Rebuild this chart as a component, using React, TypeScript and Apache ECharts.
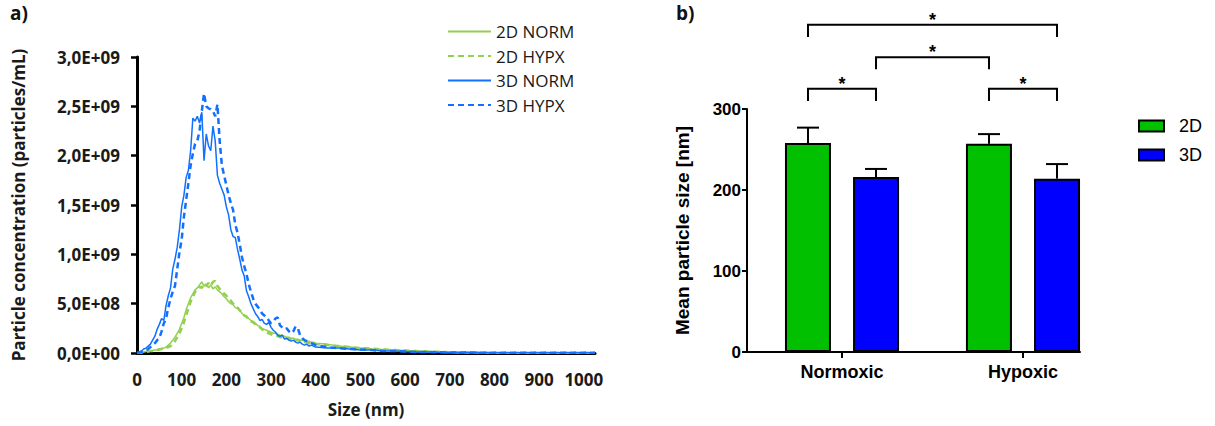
import React, { useEffect, useRef } from "react";
import * as echarts from "echarts";

// ---------- Panel a) : NTA size distributions (values in units of 1E+09 particles/mL) ----------
const sizes = [
  0, 5, 10, 15, 20, 25, 30, 35, 40, 45,
  50, 55, 60, 65, 70, 75, 80, 85, 90, 95,
  100, 105, 110, 115, 120, 125, 130, 135, 140, 145,
  150, 155, 160, 165, 170, 175, 180, 185, 190, 195,
  200, 205, 210, 215, 220, 225, 230, 235, 240, 245,
  250, 255, 260, 265, 270, 275, 280, 285, 290, 295,
  300, 305, 310, 315, 320, 325, 330, 335, 340, 345,
  350, 355, 360, 365, 370, 375, 380, 385, 390, 395,
  400, 425, 450, 475, 500, 525, 550, 575, 600, 625,
  650, 675, 700, 725, 750, 775, 800, 825, 850, 875,
  900, 925, 950, 975, 1000, 1025,
];

const norm2D = [
  0, 0, 0.005, 0.01, 0.015, 0.02, 0.02, 0.025, 0.03, 0.03,
  0.04, 0.045, 0.05, 0.06, 0.08, 0.1, 0.13, 0.16, 0.2, 0.24,
  0.3, 0.36, 0.44, 0.5, 0.56, 0.6, 0.64, 0.66, 0.69, 0.72,
  0.68, 0.7, 0.66, 0.69, 0.65, 0.67, 0.64, 0.62, 0.6, 0.57,
  0.55, 0.52, 0.5, 0.49, 0.46, 0.45, 0.44, 0.4, 0.38, 0.37,
  0.35, 0.33, 0.32, 0.3, 0.28, 0.27, 0.25, 0.24, 0.23, 0.22,
  0.21, 0.2, 0.2, 0.19, 0.18, 0.18, 0.17, 0.16, 0.16, 0.15,
  0.15, 0.14, 0.14, 0.13, 0.13, 0.12, 0.12, 0.12, 0.11, 0.11,
  0.1, 0.09, 0.07, 0.06, 0.05, 0.04, 0.035, 0.03, 0.025, 0.02,
  0.015, 0.01, 0.008, 0.006, 0.005, 0.004, 0.003, 0.003, 0.002, 0.002,
  0.002, 0.002, 0.002, 0.002, 0.002, 0.002,
];

const hypx2D = [
  0, 0, 0.005, 0.01, 0.01, 0.015, 0.02, 0.02, 0.025, 0.03,
  0.035, 0.04, 0.045, 0.05, 0.06, 0.07, 0.09, 0.12, 0.16, 0.2,
  0.25, 0.31, 0.38, 0.45, 0.52, 0.57, 0.62, 0.64, 0.67, 0.66,
  0.7, 0.68, 0.71, 0.68, 0.72, 0.73, 0.68, 0.65, 0.63, 0.6,
  0.58, 0.55, 0.53, 0.5, 0.48, 0.46, 0.43, 0.41, 0.38, 0.37,
  0.34, 0.32, 0.31, 0.29, 0.27, 0.26, 0.24, 0.22, 0.21, 0.2,
  0.19, 0.18, 0.18, 0.17, 0.16, 0.16, 0.15, 0.15, 0.14, 0.14,
  0.15, 0.13, 0.13, 0.12, 0.12, 0.11, 0.11, 0.1, 0.1, 0.1,
  0.09, 0.08, 0.07, 0.06, 0.05, 0.045, 0.035, 0.03, 0.025, 0.02,
  0.015, 0.012, 0.008, 0.006, 0.005, 0.004, 0.003, 0.003, 0.002, 0.002,
  0.002, 0.002, 0.002, 0.002, 0.002, 0.002,
];

const norm3D = [
  0, 0.01, 0.02, 0.04, 0.05, 0.07, 0.09, 0.13, 0.17, 0.24,
  0.29, 0.35, 0.33, 0.48, 0.58, 0.66, 0.85, 0.95, 1.07, 1.25,
  1.48, 1.6, 1.78, 1.85, 2.05, 2.38, 2.35, 2.4, 2.33, 2.44,
  1.95, 2.22, 2.1, 2.05, 2.3, 2.15, 1.8, 1.72, 1.66, 1.6,
  1.48, 1.4, 1.25, 1.18, 1.17, 1.05, 0.95, 0.84, 0.78, 0.63,
  0.57, 0.5, 0.45, 0.4, 0.37, 0.33, 0.34, 0.3, 0.29, 0.31,
  0.26, 0.23, 0.21, 0.18, 0.17, 0.18, 0.14, 0.15, 0.13, 0.12,
  0.13, 0.11, 0.1, 0.11, 0.09, 0.08, 0.09, 0.07, 0.08, 0.07,
  0.06, 0.05, 0.05, 0.04, 0.03, 0.03, 0.02, 0.02, 0.015, 0.01,
  0.01, 0.008, 0.006, 0.005, 0.004, 0.003, 0.003, 0.002, 0.002, 0.002,
  0.002, 0.002, 0.002, 0.002, 0.002, 0.002,
];

const hypx3D = [
  0, 0.005, 0.01, 0.02, 0.03, 0.04, 0.06, 0.08, 0.1, 0.13,
  0.15, 0.22, 0.3, 0.35, 0.46, 0.55, 0.62, 0.68, 0.85, 1.02,
  1.15, 1.38, 1.55, 1.72, 1.9, 2.02, 2.12, 2.15, 2.25, 2.45,
  2.63, 2.5, 2.48, 2.47, 2.45, 2.4, 2.52, 2.15, 1.9, 1.8,
  1.7, 1.6, 1.52, 1.45, 1.3, 1.22, 1.1, 0.97, 0.88, 0.8,
  0.7, 0.62, 0.55, 0.5, 0.47, 0.44, 0.4, 0.38, 0.36, 0.33,
  0.3, 0.32, 0.35, 0.36, 0.28, 0.26, 0.24, 0.25, 0.22, 0.2,
  0.22, 0.27, 0.25, 0.18, 0.15, 0.13, 0.12, 0.11, 0.1, 0.09,
  0.08, 0.06, 0.05, 0.04, 0.035, 0.03, 0.02, 0.02, 0.015, 0.01,
  0.01, 0.008, 0.005, 0.004, 0.004, 0.003, 0.003, 0.002, 0.002, 0.002,
  0.002, 0.002, 0.002, 0.002, 0.002, 0.002,
];

const lineNames = ["2D NORM", "2D HYPX", "3D NORM", "3D HYPX"];
const sizeTicks = [0, 100, 200, 300, 400, 500, 600, 700, 800, 900, 1000];

// ---------- Panel b) : mean particle size ----------
const categories = ["Normoxic", "Hypoxic"];
const barNames = ["2D", "3D"];
const mean2D = [258, 257];
const sd2D = [19, 12];
const mean3D = [216, 214];
const sd3D = [10, 18];
// [bar A, bar B, foot value, top value]; bars: 0 Norm 2D, 1 Norm 3D, 2 Hyp 2D, 3 Hyp 3D
const brackets = [
  [0, 1, 310, 325],
  [2, 3, 310, 325],
  [1, 2, 349, 364],
  [0, 3, 389, 404],
];

const FONT_A = "'Open Sans', sans-serif";
const FONT_B = "'Liberation Sans', Arial, sans-serif";
const GREEN_L = "#92D050";
const BLUE_L = "#1170FF";
const BAR_OFF = 34;

function sciLabel(v: number): string {
  const val = v * 1e9;
  if (val === 0) return "0,0E+00";
  const exp = Math.floor(Math.log10(val) + 1e-9);
  const m = val / Math.pow(10, exp);
  return m.toFixed(1).replace(".", ",") + "E+" + String(exp).padStart(2, "0");
}

export default function App() {
  const ref = useRef<HTMLDivElement>(null);

  useEffect(() => {
    if (!ref.current) return;
    const chart = echarts.init(ref.current, null, { renderer: "svg" });

    const lineData = [norm2D, hypx2D, norm3D, hypx3D];
    const lineColors = [GREEN_L, GREEN_L, BLUE_L, BLUE_L];
    const lineDashed = [false, true, false, true];

    const lineSeries = lineNames.map((name, k) => ({
      name,
      type: "line",
      xAxisIndex: 0,
      yAxisIndex: 0,
      symbol: "none",
      showSymbol: false,
      data: sizes.map((x, i) => [x, lineData[k][i]]),
      itemStyle: { color: lineColors[k] },
      lineStyle: {
        color: lineColors[k],
        width: lineDashed[k] ? 2.5 : 1.5,
        type: lineDashed[k] ? [6, 4] : "solid",
      },
      z: 2 + k,
    }));

    const barSeries = [
      { name: barNames[0], mean: mean2D, color: "#00C000" },
      { name: barNames[1], mean: mean3D, color: "#0000FF" },
    ].map((b) => ({
      name: b.name,
      type: "bar",
      xAxisIndex: 1,
      yAxisIndex: 1,
      barWidth: 46,
      barGap: "48%",
      data: categories.map((_, i) => [i + 1, b.mean[i]]),
      itemStyle: { color: b.color, borderColor: "#000", borderWidth: 2 },
      z: 2,
    }));

    const errData = [
      ...categories.map((_, i) => [i + 1, mean2D[i], sd2D[i], -1]),
      ...categories.map((_, i) => [i + 1, mean3D[i], sd3D[i], 1]),
    ];

    const errSeries = {
      type: "custom",
      name: "err",
      xAxisIndex: 1,
      yAxisIndex: 1,
      data: errData,
      z: 4,
      renderItem: (_p: any, api: any) => {
        const x = api.value(0);
        const m = api.value(1);
        const sd = api.value(2);
        const sgn = api.value(3);
        const base = api.coord([x, m]);
        const top = api.coord([x, m + sd]);
        const cx = base[0] + sgn * BAR_OFF;
        return {
          type: "group",
          children: [
            { type: "line", shape: { x1: cx, y1: base[1], x2: cx, y2: top[1] }, style: { stroke: "#000", lineWidth: 2 } },
            { type: "line", shape: { x1: cx - 11, y1: top[1], x2: cx + 11, y2: top[1] }, style: { stroke: "#000", lineWidth: 2 } },
          ],
        };
      },
    };

    const bracketSeries = {
      type: "custom",
      name: "sig",
      xAxisIndex: 1,
      yAxisIndex: 1,
      clip: false,
      data: brackets,
      z: 5,
      renderItem: (_p: any, api: any) => {
        const a = api.value(0);
        const b = api.value(1);
        const foot = api.value(2);
        const topV = api.value(3);
        const px = (idx: number) =>
          api.coord([Math.floor(idx / 2) + 1, 0])[0] + (idx % 2 === 0 ? -BAR_OFF : BAR_OFF);
        const xa = px(a);
        const xb = px(b);
        const yf = api.coord([1, foot])[1];
        const yt = api.coord([1, topV])[1];
        return {
          type: "group",
          children: [
            {
              type: "polyline",
              shape: { points: [[xa, yf], [xa, yt], [xb, yt], [xb, yf]] },
              style: { stroke: "#000", lineWidth: 2, fill: "none" },
            },
            {
              type: "text",
              x: (xa + xb) / 2,
              y: yt + 4,
              style: {
                text: "*",
                fill: "#000",
                fontSize: 18,
                fontFamily: FONT_B,
                fontWeight: "bold",
                align: "center",
                verticalAlign: "bottom",
              },
            },
          ],
        };
      },
    };

    const option: any = {
      animation: false,
      backgroundColor: "#fff",
      grid: [
        { left: 137, top: 57, width: 458, height: 296 },
        { left: 747, top: 109, width: 333, height: 243 },
      ],
      xAxis: [
        {
          gridIndex: 0,
          type: "value",
          min: 0,
          max: 1025,
          splitLine: { show: false },
          axisLine: { show: true, onZero: false, lineStyle: { color: "#000", width: 3 } },
          axisTick: { show: false },
          axisLabel: {
            customValues: sizeTicks,
            formatter: (v: number) => String(v),
            margin: 18,
            color: "#1a1a1a",
            fontFamily: FONT_A,
            fontWeight: "bold",
            fontSize: 17,
          },
          name: "Size (nm)",
          nameLocation: "middle",
          nameGap: 48,
          nameTextStyle: { color: "#1a1a1a", fontFamily: FONT_A, fontWeight: "bold", fontSize: 17 },
        },
        {
          gridIndex: 1,
          type: "value",
          min: 0.475,
          max: 2.315,
          splitLine: { show: false },
          axisLine: { show: true, onZero: false, lineStyle: { color: "#000", width: 2 } },
          axisTick: { show: true, customValues: [1, 2], length: 6, lineStyle: { color: "#000", width: 2 } },
          axisLabel: {
            customValues: [1, 2],
            formatter: (v: number) => categories[Math.round(v) - 1] || "",
            margin: 11,
            color: "#000",
            fontFamily: FONT_B,
            fontWeight: "bold",
            fontSize: 18,
          },
        },
      ],
      yAxis: [
        {
          gridIndex: 0,
          type: "value",
          min: 0,
          max: 3,
          interval: 0.5,
          splitLine: { show: false },
          axisLine: { show: true, lineStyle: { color: "#000", width: 3 } },
          axisTick: { show: true, inside: false, length: 6, lineStyle: { color: "#000", width: 2.5 } },
          axisLabel: {
            formatter: sciLabel,
            margin: 17,
            color: "#1a1a1a",
            fontFamily: FONT_A,
            fontWeight: "bold",
            fontSize: 17,
          },
          name: "Particle concentration (particles/mL)",
          nameLocation: "middle",
          nameGap: 110,
          nameTextStyle: { color: "#1a1a1a", fontFamily: FONT_A, fontWeight: "bold", fontSize: 17 },
        },
        {
          gridIndex: 1,
          type: "value",
          min: 0,
          max: 300,
          interval: 100,
          splitLine: { show: false },
          axisLine: { show: true, lineStyle: { color: "#000", width: 2 } },
          axisTick: { show: true, inside: false, length: 5, lineStyle: { color: "#000", width: 2 } },
          axisLabel: {
            margin: 6,
            color: "#000",
            fontFamily: FONT_B,
            fontWeight: "bold",
            fontSize: 17,
          },
          name: "Mean particle size [nm]",
          nameLocation: "middle",
          nameGap: 55,
          nameTextStyle: { color: "#000", fontFamily: FONT_B, fontWeight: "bold", fontSize: 19 },
        },
      ],
      legend: [
        {
          data: lineNames,
          orient: "vertical",
          left: 447,
          top: 23,
          padding: 0,
          itemWidth: 43,
          itemHeight: 14,
          itemGap: 7.5,
          selectedMode: false,
          itemStyle: { color: "transparent", borderColor: "transparent", borderWidth: 0 },
          textStyle: { color: "#1a1a1a", fontFamily: FONT_A, fontSize: 17 },
        },
        {
          data: barNames,
          orient: "vertical",
          left: 1138,
          top: 117,
          padding: 0,
          itemWidth: 25,
          itemHeight: 11,
          itemGap: 11,
          icon: "rect",
          selectedMode: false,
          textStyle: { color: "#000", fontFamily: FONT_B, fontSize: 18, padding: [0, 0, 0, 10] },
        },
      ],
      graphic: [
        {
          type: "text",
          left: 10,
          top: 3,
          style: { text: "a)", fill: "#111", fontFamily: FONT_A, fontWeight: "bold", fontSize: 19 },
        },
        {
          type: "text",
          left: 676,
          top: 3,
          style: { text: "b)", fill: "#111", fontFamily: FONT_A, fontWeight: "bold", fontSize: 19 },
        },
      ],
      series: [...lineSeries, ...barSeries, errSeries, bracketSeries],
    };

    chart.setOption(option);
    return () => {
      chart.dispose();
    };
  }, []);

  return (
    <div
      ref={ref}
      style={{ position: "absolute", left: 0, top: 0, width: 1215, height: 426, background: "#fff" }}
    />
  );
}
